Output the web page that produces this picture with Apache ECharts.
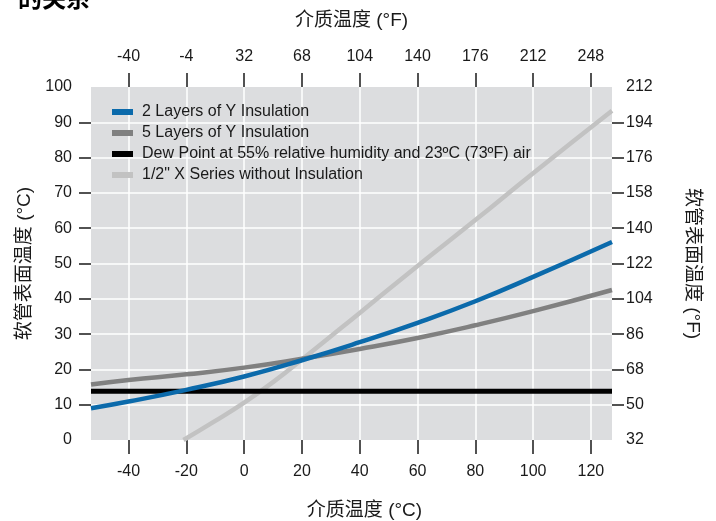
<!DOCTYPE html>
<html>
<head>
<meta charset="utf-8">
<script src="https://cdn.jsdelivr.net/npm/echarts@6/dist/echarts.min.js"></script>
<style>
  html, body { margin: 0; padding: 0; background: #fff; }
  #chart { width: 716px; height: 521px; }
</style>
</head>
<body>
<div id="chart"></div>
<script>
// -----------------------------------------------------------------------------
// Donnees (temperature du milieu en °C -> surface en °C)
// -----------------------------------------------------------------------------
const xTicksC = [-40, -20, 0, 20, 40, 60, 80, 100, 120];
const xTickLabelsC = ["-40", "-20", "0", "20", "40", "60", "80", "100", "120"];
const xTickLabelsF = ["-40", "-4", "32", "68", "104", "140", "176", "212", "248"];
const yTicksInner = [10, 20, 30, 40, 50, 60, 70, 80, 90];

const xLayers = [-53, -40, -20, 0, 20, 40, 60, 80, 100, 127.3];
const twoLayers = [9.0, 10.9, 14.2, 18.0, 22.6, 27.7, 33.2, 39.3, 46.2, 56.1];
const fiveLayers = [15.7, 17.0, 18.6, 20.5, 23.0, 25.8, 28.9, 32.5, 36.5, 42.5];

const xDew = [-53, 127.3];
const dewPoint = [13.8, 13.8];

const xBare = [-21, -10, 0, 10, 20, 40, 60, 80, 100, 127.3];
const noInsulation = [0, 5.4, 10.6, 16.4, 22.8, 36.0, 49.3, 62.3, 75.6, 93.3];

const seriesNames = [
  "2 Layers of Y Insulation",
  "5 Layers of Y Insulation",
  "Dew Point at 55% relative humidity and 23ºC (73ºF) air",
  "1/2\" X Series without Insulation"
];

const FONT = "'Liberation Sans', 'Noto Sans CJK SC', sans-serif";
const TXT = "#1a1a1a";

const pairs = (xs, ys) => xs.map((x, i) => [x, ys[i]]);
const cToF = (v) => Math.round(v * 9 / 5 + 32);

const chart = echarts.init(document.getElementById("chart"));

const tickStyle = { lineStyle: { color: TXT, width: 1.5 } };

chart.setOption({
  animation: false,
  textStyle: { fontFamily: FONT },
  graphic: [{
    type: "text",
    left: 18,
    top: -12,
    style: { text: "的关系", font: `bold 24px ${FONT}`, fill: "#000" }
  }],
  grid: {
    left: 91, right: 104, top: 87, bottom: 81,
    outerBoundsMode: "none", containLabel: false,
    show: true, backgroundColor: "#dcdddf", borderWidth: 0
  },
  legend: {
    orient: "vertical",
    left: 112, top: 104, padding: 0,
    itemWidth: 21, itemHeight: 6, itemGap: 5,
    icon: "rect",
    textStyle: { fontSize: 16, color: TXT, lineHeight: 16, padding: [0, 0, 0, 4] },
    data: seriesNames
  },
  xAxis: [{
    type: "value", position: "bottom",
    min: -53, max: 127.3,
    name: "介质温度 (°C)", nameLocation: "middle", nameGap: 61,
    nameTextStyle: { fontSize: 19, color: TXT, padding: [0, 0, 0, 26] },
    axisLine: { show: false, onZero: false },
    axisTick: { show: true, length: 14, customValues: xTicksC, ...tickStyle },
    axisLabel: {
      customValues: xTicksC, margin: 24, fontSize: 16, color: TXT,
      formatter: (v) => xTickLabelsC[xTicksC.indexOf(v)]
    },
    splitLine: { show: true, lineStyle: { color: "#fff", width: 1.5 } }
  }, {
    type: "value", position: "top",
    min: -53, max: 127.3,
    name: "介质温度 (°F)", nameLocation: "middle", nameGap: 57,
    nameTextStyle: { fontSize: 19, color: TXT },
    axisLine: { show: false, onZero: false },
    axisTick: { show: true, length: 14, customValues: xTicksC, ...tickStyle },
    axisLabel: {
      customValues: xTicksC, margin: 22, fontSize: 16, color: TXT,
      formatter: (v) => xTickLabelsF[xTicksC.indexOf(v)]
    },
    splitLine: { show: false }
  }],
  yAxis: [{
    type: "value", position: "left",
    min: 0, max: 100, interval: 10,
    name: "软管表面温度 (°C)", nameLocation: "middle", nameGap: 55, nameRotate: 90,
    nameTextStyle: { fontSize: 19, color: TXT },
    axisLine: { show: false, onZero: false },
    axisTick: { show: true, length: 12, customValues: yTicksInner, ...tickStyle },
    axisLabel: { margin: 19, fontSize: 16, color: TXT },
    splitLine: { show: true, lineStyle: { color: "#fff", width: 1.5 } }
  }, {
    type: "value", position: "right",
    min: 0, max: 100, interval: 10,
    name: "软管表面温度 (°F)", nameLocation: "middle", nameGap: 71, nameRotate: -90,
    nameTextStyle: { fontSize: 19, color: TXT },
    axisLine: { show: false, onZero: false },
    axisTick: { show: true, length: 12, customValues: yTicksInner, ...tickStyle },
    axisLabel: { margin: 14, fontSize: 16, color: TXT, formatter: (v) => String(cToF(v)) },
    splitLine: { show: false }
  }],
  series: [{
    name: seriesNames[0], type: "line", smooth: true, showSymbol: false,
    color: "#0b6aab", lineStyle: { width: 4.5 },
    data: pairs(xLayers, twoLayers), z: 4
  }, {
    name: seriesNames[1], type: "line", smooth: true, showSymbol: false,
    color: "#808080", lineStyle: { width: 4.5 },
    data: pairs(xLayers, fiveLayers), z: 3
  }, {
    name: seriesNames[2], type: "line", showSymbol: false,
    color: "#000000", lineStyle: { width: 5 },
    data: pairs(xDew, dewPoint), z: 2
  }, {
    name: seriesNames[3], type: "line", smooth: true, showSymbol: false,
    color: "#c2c2c2", lineStyle: { width: 4.5 },
    data: pairs(xBare, noInsulation), z: 1
  }]
});
</script>
</body>
</html>
